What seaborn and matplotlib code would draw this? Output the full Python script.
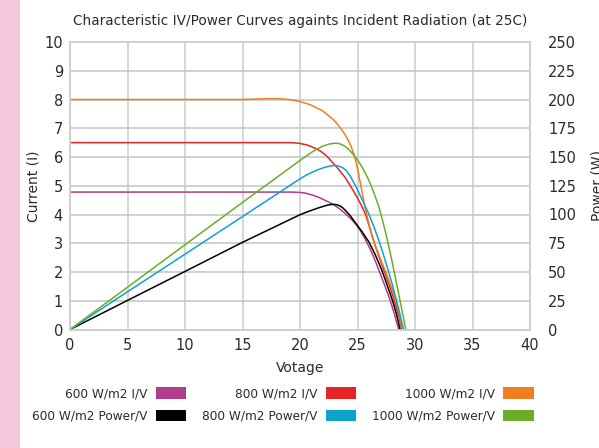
import matplotlib
matplotlib.use("Agg")
import matplotlib.pyplot as plt
from matplotlib.patches import Patch, Rectangle
import seaborn as sns
import pandas as pd

# I/V curves (current in A)
v_iv_600 = [0, 5, 10, 15, 19.3, 19.9, 20.4, 20.8, 21.2, 21.6, 22.0, 22.5, 23.0, 23.4, 23.8, 24.1, 24.5,
            24.8, 25.2, 25.7, 26.0, 26.3, 26.6, 26.85, 27.35, 27.85, 28.2, 28.57]
i_iv_600 = [4.78, 4.78, 4.78, 4.78, 4.78, 4.77, 4.75, 4.71, 4.66, 4.6, 4.53, 4.43, 4.32, 4.21, 4.08, 3.97,
            3.82, 3.69, 3.47, 3.12, 2.88, 2.62, 2.33, 2.07, 1.55, 1.0, 0.55, 0.0]

v_iv_800 = [0, 5, 10, 15, 19.0, 19.6, 20.0, 20.6, 21.0, 21.5, 21.9, 22.2, 22.5, 22.8, 23.2, 23.5, 23.9,
            24.25, 24.6, 25.0, 25.4, 25.7, 26.0, 26.3, 26.8, 27.35, 27.8, 28.2, 28.55, 28.86]
i_iv_800 = [6.5, 6.5, 6.5, 6.5, 6.5, 6.49, 6.47, 6.42, 6.36, 6.27, 6.17, 6.08, 5.96, 5.82, 5.65, 5.5, 5.3,
            5.08, 4.85, 4.57, 4.27, 4.0, 3.62, 3.22, 2.6, 2.0, 1.5, 1.02, 0.52, 0.0]

v_iv_1000 = [0, 5, 10, 15, 16.5, 17.5, 18.5, 19.0, 19.5, 20.0, 20.5, 21.0, 21.5, 21.9, 22.3, 22.7, 23.0,
             23.3, 23.6, 23.9, 24.2, 24.45, 24.7, 24.9, 25.1, 25.3, 25.5, 25.75, 26.0, 26.25, 26.5, 27.0,
             27.5, 28.0, 28.5, 28.9]
i_iv_1000 = [8.0, 8.0, 8.0, 8.0, 8.02, 8.03, 8.02, 8.0, 7.97, 7.93, 7.87, 7.8, 7.7, 7.62, 7.5, 7.37, 7.26,
             7.12, 6.96, 6.79, 6.58, 6.36, 6.08, 5.78, 5.4, 4.98, 4.56, 4.08, 3.66, 3.28, 2.96, 2.45,
             1.95, 1.42, 0.76, 0.0]

# Power curves (W)
v_pw_600 = [0, 5, 10, 15, 20, 20.5, 21, 21.5, 22, 22.4, 22.8, 23.1, 23.4, 23.7, 24.0, 24.4, 24.8, 25.4,
            26.0, 26.5, 27.1, 27.6, 28.05, 28.4, 28.7]
p_pw_600 = [0, 25.3, 50.5, 75.8, 99.8, 101.8, 103.6, 105.4, 107, 108.2, 108.8, 108.7, 107.8, 106, 103,
            98.5, 93, 85, 76, 66, 52, 38, 25, 13, 0]

v_pw_800 = [0, 5, 10, 15, 20, 20.5, 21, 21.5, 22, 22.4, 22.9, 23.3, 23.66, 24.0, 24.4, 24.8, 25.4, 26.0,
            26.4, 26.8, 27.2, 27.65, 28.0, 28.4, 28.7, 29.0]
p_pw_800 = [0, 32.8, 65.5, 98.2, 131, 134, 136.5, 138.7, 140.5, 141.7, 142.6, 142.3, 141, 138.5, 133,
            125.5, 113, 100, 90, 79, 67, 52, 40, 25, 13, 0]

v_pw_1000 = [0, 5, 10, 15, 20, 20.5, 21, 21.5, 22, 22.5, 23.0, 23.4, 23.8, 24.2, 24.7, 25.2, 25.6, 26.0,
             26.4, 26.85, 27.15, 27.45, 27.75, 28.05, 28.4, 28.7, 29.0, 29.2]
p_pw_1000 = [0, 36.8, 73.7, 110.5, 147, 150.5, 154, 157, 159.5, 161.2, 162, 161.7, 160, 157, 151.5,
             144.5, 137.5, 129.5, 119.5, 107, 96, 84, 71, 57, 40, 25, 10, 0]

iv_labels = ["600 W/m2 I/V", "800 W/m2 I/V", "1000 W/m2 I/V"]
pw_labels = ["600 W/m2 Power/V", "800 W/m2 Power/V", "1000 W/m2 Power/V"]
colors = {
    "600 W/m2 I/V": "#B03C8C",
    "600 W/m2 Power/V": "#000000",
    "800 W/m2 I/V": "#E42525",
    "800 W/m2 Power/V": "#0EA3CB",
    "1000 W/m2 I/V": "#F07E1E",
    "1000 W/m2 Power/V": "#6AAE28",
}


def long_df(series):
    frames = []
    for name, v, y in series:
        frames.append(pd.DataFrame({"V": v, "y": y, "series": name}))
    return pd.concat(frames, ignore_index=True)


iv_df = long_df(zip(iv_labels, [v_iv_600, v_iv_800, v_iv_1000], [i_iv_600, i_iv_800, i_iv_1000]))
pw_df = long_df(zip(pw_labels, [v_pw_600, v_pw_800, v_pw_1000], [p_pw_600, p_pw_800, p_pw_1000]))

sns.set_style("white")
plt.rcParams["font.family"] = ["DejaVu Sans"]
text_col = "#2b2b2b"

fig = plt.figure(figsize=(5.99, 4.48), dpi=100)
fig.patches.append(Rectangle((0, 0), 20 / 599, 1, transform=fig.transFigure,
                             facecolor="#F4C9DE", edgecolor="none", zorder=0))
ax = fig.add_axes([70 / 599, 1 - 329.5 / 448, 460 / 599, 287.5 / 448])
ax2 = ax.twinx()

sns.lineplot(data=iv_df, x="V", y="y", hue="series", palette=colors, sort=False,
             estimator=None, legend=False, lw=1.1, ax=ax)
sns.lineplot(data=pw_df, x="V", y="y", hue="series", palette=colors, sort=False,
             estimator=None, legend=False, lw=1.1, ax=ax2)

ax.set_xlim(0, 40)
ax.set_ylim(0, 10)
ax2.set_ylim(0, 250)
ax.set_xticks(range(0, 41, 5))
ax.set_yticks(range(0, 11))
ax2.set_yticks(range(0, 251, 25))

ax.grid(True, axis="x", color="#D6D6D6", lw=1.4)
ax.grid(True, axis="y", color="#C4C4C4", lw=1.1)
ax.set_axisbelow(True)
for a in (ax, ax2):
    for s in a.spines.values():
        s.set_color("#CFCFCF")
        s.set_linewidth(1.2)

ax.tick_params(axis="both", length=0, labelsize=10.5, labelcolor=text_col)
ax.tick_params(axis="y", pad=5)
ax.tick_params(axis="x", pad=6)
ax2.tick_params(axis="y", length=0, labelsize=10.5, labelcolor=text_col, pad=13)

ax.set_xlabel("Votage", fontsize=10, color=text_col, labelpad=6)
ax.set_ylabel("Current (I)", fontsize=10, color=text_col, labelpad=2.5)
ax2.set_ylabel("Power (W)", fontsize=10, color=text_col, labelpad=10)
ax.set_title("Characteristic IV/Power Curves againts Incident Radiation (at 25C)",
             fontsize=9.8, color=text_col, pad=12)

order = ["600 W/m2 I/V", "600 W/m2 Power/V", "800 W/m2 I/V", "800 W/m2 Power/V",
         "1000 W/m2 I/V", "1000 W/m2 Power/V"]
handles = [Patch(facecolor=colors[n], edgecolor="none", label=n) for n in order]
fig.legend(handles=handles, loc="center", bbox_to_anchor=(283 / 599, 1 - 405 / 448),
           ncol=3, frameon=False, markerfirst=False, fontsize=8.7, labelcolor=text_col,
           handlelength=2.5, handleheight=1.07, handletextpad=0.66, columnspacing=1.36,
           labelspacing=0.8)

fig.savefig("out.png", dpi=100)
